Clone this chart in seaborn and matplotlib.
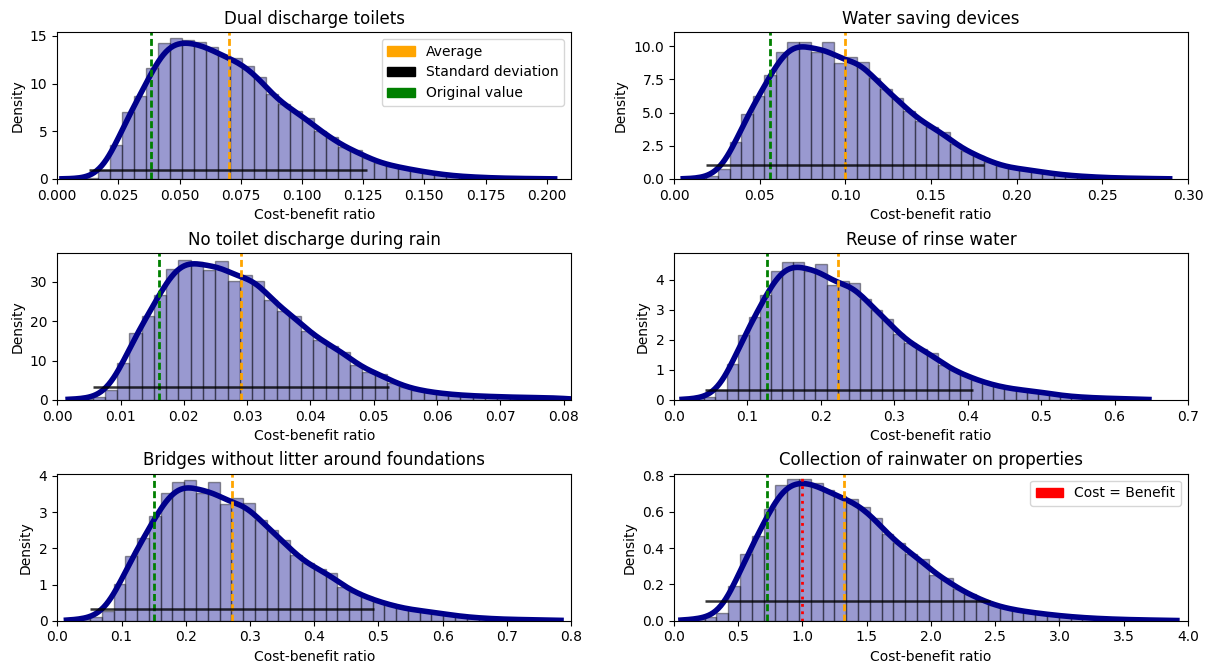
import numpy as np
import pandas as pd
import seaborn as sns
import matplotlib
matplotlib.use("Agg")
from matplotlib import pyplot as plt
import matplotlib.patches as mpatches

# panel titles
titles = ["Dual discharge toilets", "Water saving devices",
          "No toilet discharge during rain", "Reuse of rinse water",
          "Bridges without litter around foundations",
          "Collection of rainwater on properties"]

# histogram bins (first edge, bin width)
bin_start = [0.00192, 0.0054, 0.00172, 0.0110, 0.0143, 0.054]
bin_width = [0.00491, 0.00676, 0.001937, 0.01514, 0.01833, 0.0919]

# bar heights (density)
dual_toilets = [0.02, 0.05, 0.15, 0.9, 3.6, 7.0, 8.7, 11.6, 14.2, 14.75, 14.6, 14.4, 13.8,
                13.0, 12.7, 11.8, 10.7, 8.9, 7.9, 7.1, 6.35, 5.0, 4.4, 3.3, 3.0, 2.2, 1.7,
                1.4, 1.15, 0.9, 0.7, 0.5, 0.35, 0.25, 0.2, 0.12, 0.1, 0.06, 0.05, 0.03, 0.02]
water_saving = [0.02, 0.05, 0.2, 0.75, 2.75, 4.9, 6.25, 7.8, 9.6, 10.3, 10.3, 9.55, 10.3,
                8.7, 9.2, 8.8, 7.6, 6.75, 6.1, 5.1, 4.4, 3.9, 3.5, 2.6, 2.1, 1.75, 1.3,
                1.0, 0.8, 0.75, 0.6, 0.45, 0.35, 0.25, 0.2, 0.15, 0.1, 0.08, 0.06, 0.04,
                0.03, 0.02]
no_discharge = [0.2, 0.3, 0.7, 2.5, 9.5, 16.9, 21.3, 26.8, 33.4, 35.5, 35.1, 33.0, 35.3,
                30.2, 31.7, 30.2, 25.5, 22.7, 21.3, 17.4, 15.3, 13.6, 12.1, 8.9, 7.2, 6.6,
                4.4, 3.3, 2.5, 2.0, 1.6, 1.3, 1.1, 0.95, 0.85, 0.75, 0.65, 0.6, 0.55, 0.5,
                0.45]
rinse_water = [0.02, 0.05, 0.1, 0.33, 1.2, 2.17, 2.75, 3.5, 4.28, 4.58, 4.6, 4.28, 4.53,
               3.83, 3.95, 3.9, 3.35, 2.98, 2.7, 2.2, 1.9, 1.7, 1.55, 1.17, 0.98, 0.83,
               0.67, 0.55, 0.45, 0.38, 0.33, 0.3, 0.25, 0.18, 0.13, 0.1, 0.08, 0.06, 0.05,
               0.04, 0.03, 0.02]
bridges = [0.02, 0.05, 0.1, 0.28, 1.01, 1.79, 2.28, 2.88, 3.54, 3.82, 3.89, 3.52, 3.82,
           3.23, 3.38, 3.24, 2.78, 2.5, 2.23, 1.82, 1.59, 1.42, 1.31, 0.94, 0.8, 0.66,
           0.53, 0.45, 0.35, 0.3, 0.27, 0.22, 0.17, 0.12, 0.09, 0.07, 0.05, 0.04, 0.03,
           0.03, 0.02, 0.02]
rainwater = [0.005, 0.01, 0.02, 0.044, 0.19, 0.37, 0.47, 0.615, 0.75, 0.78, 0.78, 0.76,
             0.72, 0.69, 0.67, 0.63, 0.565, 0.48, 0.43, 0.37, 0.34, 0.25, 0.235, 0.173,
             0.147, 0.114, 0.087, 0.07, 0.058, 0.048, 0.04, 0.032, 0.025, 0.02, 0.015,
             0.012, 0.009, 0.007, 0.005, 0.004, 0.003, 0.002]
heights = [dual_toilets, water_saving, no_discharge, rinse_water, bridges, rainwater]

# reference lines
averages = [0.0700, 0.0999, 0.0290, 0.2236, 0.2724, 1.325]
original_values = [0.0382, 0.0559, 0.01605, 0.1268, 0.151, 0.7247]
std_low = [0.0131, 0.0189, 0.00568, 0.0418, 0.051, 0.239]
std_high = [0.1266, 0.1811, 0.05242, 0.4077, 0.4927, 2.46]
std_level = [0.97, 1.05, 3.23, 0.33, 0.31, 0.107]
break_even = 1.0

# axis ranges
x_max = [0.21, 0.30, 0.0812, 0.70, 0.80, 4.0]
y_max = [15.4, 11.07, 37.4, 4.89, 4.06, 0.811]

fig, axes = plt.subplots(3, 2, figsize=(12.08, 6.64), dpi=100)
plt.subplots_adjust(left=0.0474, right=0.9834, top=0.9518, bottom=0.0652,
                    wspace=0.2, hspace=0.503)

for i, ax in enumerate(axes.flat):
    n = len(heights[i])
    edges = bin_start[i] + bin_width[i] * np.arange(n + 1)
    df = pd.DataFrame({"ratio": (edges[:-1] + edges[1:]) / 2, "density": heights[i]})

    sns.histplot(data=df, x="ratio", weights="density", bins=list(edges), ax=ax,
                 color="darkblue", alpha=0.4, edgecolor=(0, 0, 0, 0.4), linewidth=1)
    sns.kdeplot(data=df, x="ratio", weights="density", bw_adjust=0.31, cut=3,
                clip=(edges[0], edges[-1]), ax=ax, color="darkblue", linewidth=4)

    ax.axvline(averages[i], color="orange", linestyle=(0, (2.5, 1.2)), linewidth=2)
    ax.axvline(original_values[i], color="green", linestyle=(0, (2.5, 1.2)), linewidth=2)
    ax.hlines(std_level[i], std_low[i], std_high[i], color="black", alpha=0.8,
              linewidth=1.8)

    ax.set_xlim(0, x_max[i])
    ax.set_ylim(0, y_max[i])
    ax.set_title(titles[i])
    ax.set_xlabel("Cost-benefit ratio")
    ax.set_ylabel("Density")

# legends
handles = [mpatches.Patch(color="orange", label="Average"),
           mpatches.Patch(color="black", label="Standard deviation"),
           mpatches.Patch(color="green", label="Original value")]
axes[0, 0].legend(handles=handles, loc="upper right")

axes[2, 1].axvline(break_even, color="red", linestyle=":", linewidth=2)
axes[2, 1].legend(handles=[mpatches.Patch(color="red", label="Cost = Benefit")],
                  loc="upper right")

plt.savefig("out.png", dpi=100)
